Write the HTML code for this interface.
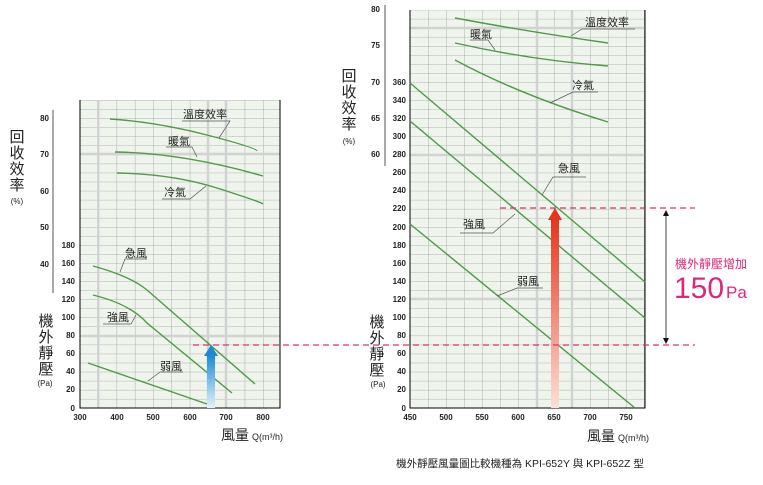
<!DOCTYPE html>
<html><head><meta charset="utf-8"><style>
body{margin:0;background:#fff;width:763px;height:485px;overflow:hidden}
svg{display:block;font-family:"Liberation Sans","Noto Sans CJK TC",sans-serif}
</style></head><body>
<svg width="763" height="485" viewBox="0 0 763 485">
<defs>
<pattern id="gl" width="18.3" height="9.05" patternUnits="userSpaceOnUse" patternTransform="translate(80,408)">
<path d="M0 0V9.05M0 0H18.3" stroke="#9aa19a" stroke-width="0.8" fill="none"/></pattern>
<pattern id="gr" width="18" height="9.05" patternUnits="userSpaceOnUse" patternTransform="translate(410,408)">
<path d="M0 0V9.05M0 0H18" stroke="#9aa19a" stroke-width="0.8" fill="none"/></pattern>
<linearGradient id="blue" x1="0" y1="1" x2="0" y2="0"><stop offset="0" stop-color="#e6f2fb"/><stop offset="1" stop-color="#1a8ad4"/></linearGradient>
<linearGradient id="red" x1="0" y1="1" x2="0" y2="0"><stop offset="0" stop-color="#fbe0d6"/><stop offset="1" stop-color="#e8341c"/></linearGradient>
</defs>
<!-- left plot -->
<rect x="80" y="100" width="200" height="308" fill="#eff5ec"/>
<rect x="80" y="100" width="200" height="308" fill="url(#gl)"/>
<g stroke="#d2d2d2" stroke-width="2.5"><line x1="98.3" y1="100" x2="98.3" y2="408"/><line x1="208" y1="100" x2="208" y2="408"/><line x1="226" y1="100" x2="226" y2="408"/><line x1="80" y1="154" x2="280" y2="154"/><line x1="80" y1="336" x2="280" y2="336"/></g>
<path d="M80 100V408H280V100" fill="none" stroke="#000" stroke-width="1"/>
<line x1="53" y1="110" x2="53" y2="293" stroke="#555" stroke-width="1"/>
<g font-size="8" font-weight="bold" fill="#222" text-anchor="end">
<text x="49" y="121">80</text><text x="49" y="157">70</text><text x="49" y="194">60</text><text x="49" y="230">50</text><text x="49" y="267">40</text>
<text x="75" y="248">180</text><text x="75" y="266">160</text><text x="75" y="284">140</text><text x="75" y="302">120</text><text x="75" y="320">100</text><text x="75" y="338">80</text><text x="75" y="356">60</text><text x="75" y="374">40</text><text x="75" y="392">20</text><text x="75" y="411">0</text>
</g>
<g font-size="8" font-weight="bold" fill="#222" text-anchor="middle">
<text x="80" y="420">300</text><text x="117" y="420">400</text><text x="153" y="420">500</text><text x="190" y="420">600</text><text x="226" y="420">700</text><text x="263" y="420">800</text>
</g>
<g fill="none" stroke="#4e9a48" stroke-width="1.4">
<path d="M110 119Q157 122 207 135T257 151"/>
<path d="M115 152Q183 153 263 176"/>
<path d="M117 173Q173 174 217 188T263 204"/>
<path d="M93 266Q130 276 147 290L255 384"/>
<path d="M93 295Q130 304 147 323L232 393"/>
<path d="M88 363L207 404"/>
</g>
<g fill="none" stroke="#555" stroke-width="0.7">
<path d="M182 121H230L219 138"/><path d="M166 147H192L197 157"/><path d="M162 199H190L206 186"/><path d="M147 259H125L120 272"/><path d="M103 324H131L136 315"/><path d="M160 372H183M160 372L148 381"/>
</g>
<g font-size="11" fill="#222">
<text x="183" y="118">溫度效率</text><text x="168" y="145">暖氣</text><text x="164" y="196">冷氣</text><text x="125" y="257">急風</text><text x="107" y="321">強風</text><text x="160" y="370">弱風</text>
</g>
<!-- right plot -->
<rect x="410" y="10" width="235" height="398" fill="#eff5ec"/>
<rect x="410" y="10" width="235" height="398" fill="url(#gr)"/>
<g stroke="#d2d2d2" stroke-width="2.5"><line x1="537" y1="10" x2="537" y2="408"/><line x1="572" y1="10" x2="572" y2="408"/><line x1="410" y1="28" x2="645" y2="28"/><line x1="410" y1="155" x2="645" y2="155"/><line x1="410" y1="299" x2="645" y2="299"/></g>
<path d="M410 10V408H645V10" fill="none" stroke="#000" stroke-width="1"/>
<line x1="385" y1="5" x2="385" y2="166" stroke="#555" stroke-width="1"/>
<g font-size="8" font-weight="bold" fill="#222" text-anchor="end">
<text x="380" y="12">80</text><text x="380" y="48">75</text><text x="380" y="85">70</text><text x="380" y="121">65</text><text x="380" y="157">60</text>
<text x="406" y="85">360</text><text x="406" y="103">340</text><text x="406" y="121">320</text><text x="406" y="139">300</text><text x="406" y="157">280</text><text x="406" y="175">260</text><text x="406" y="193">240</text><text x="406" y="211">220</text><text x="406" y="230">200</text><text x="406" y="248">180</text><text x="406" y="266">160</text><text x="406" y="284">140</text><text x="406" y="302">120</text><text x="406" y="320">100</text><text x="406" y="338">80</text><text x="406" y="356">60</text><text x="406" y="374">40</text><text x="406" y="392">20</text><text x="406" y="411">0</text>
</g>
<g font-size="8" font-weight="bold" fill="#222" text-anchor="middle">
<text x="410" y="420">450</text><text x="446" y="420">500</text><text x="482" y="420">550</text><text x="518" y="420">600</text><text x="554" y="420">650</text><text x="590" y="420">700</text><text x="626" y="420">750</text>
</g>
<g fill="none" stroke="#4e9a48" stroke-width="1.4">
<path d="M455 18Q530 32 608 43"/>
<path d="M455 43Q530 60 608 66"/>
<path d="M455 60Q520 95 608 122"/>
<path d="M410 83L645 282"/>
<path d="M410 121L645 318"/>
<path d="M410 224L635 408"/>
</g>
<g fill="none" stroke="#555" stroke-width="0.7">
<path d="M635 29H582L571 36"/><path d="M470 40H488L495 50"/><path d="M598 92H573L550 103"/><path d="M586 177H553L542 195"/><path d="M460 233H493L515 214"/><path d="M543 288H517L497 296"/>
</g>
<g font-size="11" fill="#222">
<text x="585" y="26">溫度效率</text><text x="470" y="38">暖氣</text><text x="572" y="89">冷氣</text><text x="558" y="172">急風</text><text x="463" y="228">強風</text><text x="517" y="285">弱風</text>
</g>
<!-- arrows -->
<rect x="207" y="355" width="8" height="53" fill="url(#blue)"/><polygon points="204,356 218,356 211,345" fill="#1a8ad4"/>
<rect x="551" y="219" width="8" height="189" fill="url(#red)"/><polygon points="548,220 562,220 555,208" fill="#e8341c"/>
<g stroke="#e0306c" stroke-width="1.2" stroke-dasharray="6,4">
<line x1="193" y1="345" x2="695" y2="345"/><line x1="500" y1="208" x2="695" y2="208"/>
</g>
<line x1="666" y1="213" x2="666" y2="341" stroke="#444" stroke-width="1"/>
<polygon points="663,216 669,216 666,210" fill="#111"/><polygon points="663,338 669,338 666,344" fill="#111"/>
<text x="675" y="268" font-size="12" fill="#e0267a">機外靜壓增加</text>
<text x="674" y="298" font-size="30" fill="#e0267a">150</text><text x="726" y="298" font-size="17" fill="#e0267a">Pa</text>
<!-- axis titles -->
<g font-size="15" fill="#222" text-anchor="middle">
<text x="17" y="142">回</text><text x="17" y="158">收</text><text x="17" y="174">效</text><text x="17" y="190">率</text>
<text x="46" y="326">機</text><text x="46" y="342">外</text><text x="46" y="358">靜</text><text x="46" y="374">壓</text>
<text x="349" y="81">回</text><text x="349" y="97">收</text><text x="349" y="113">效</text><text x="349" y="129">率</text>
<text x="377" y="327">機</text><text x="377" y="343">外</text><text x="377" y="359">靜</text><text x="377" y="375">壓</text>
</g>
<g font-size="8" fill="#222" text-anchor="middle"><text x="17" y="204">(%)</text><text x="349" y="144">(%)</text><text x="45" y="386">(Pa)</text><text x="378" y="387">(Pa)</text></g>
<text x="221" y="440" font-size="14" fill="#222">風量</text><text x="252" y="440" font-size="9" fill="#222">Q(m³/h)</text>
<text x="587" y="441" font-size="14" fill="#222">風量</text><text x="618" y="441" font-size="9" fill="#222">Q(m³/h)</text>
<text x="520" y="467" font-size="10.5" fill="#222" text-anchor="middle">機外靜壓風量圖比較機種為 KPI-652Y 與 KPI-652Z 型</text>
</svg>
</body></html>
